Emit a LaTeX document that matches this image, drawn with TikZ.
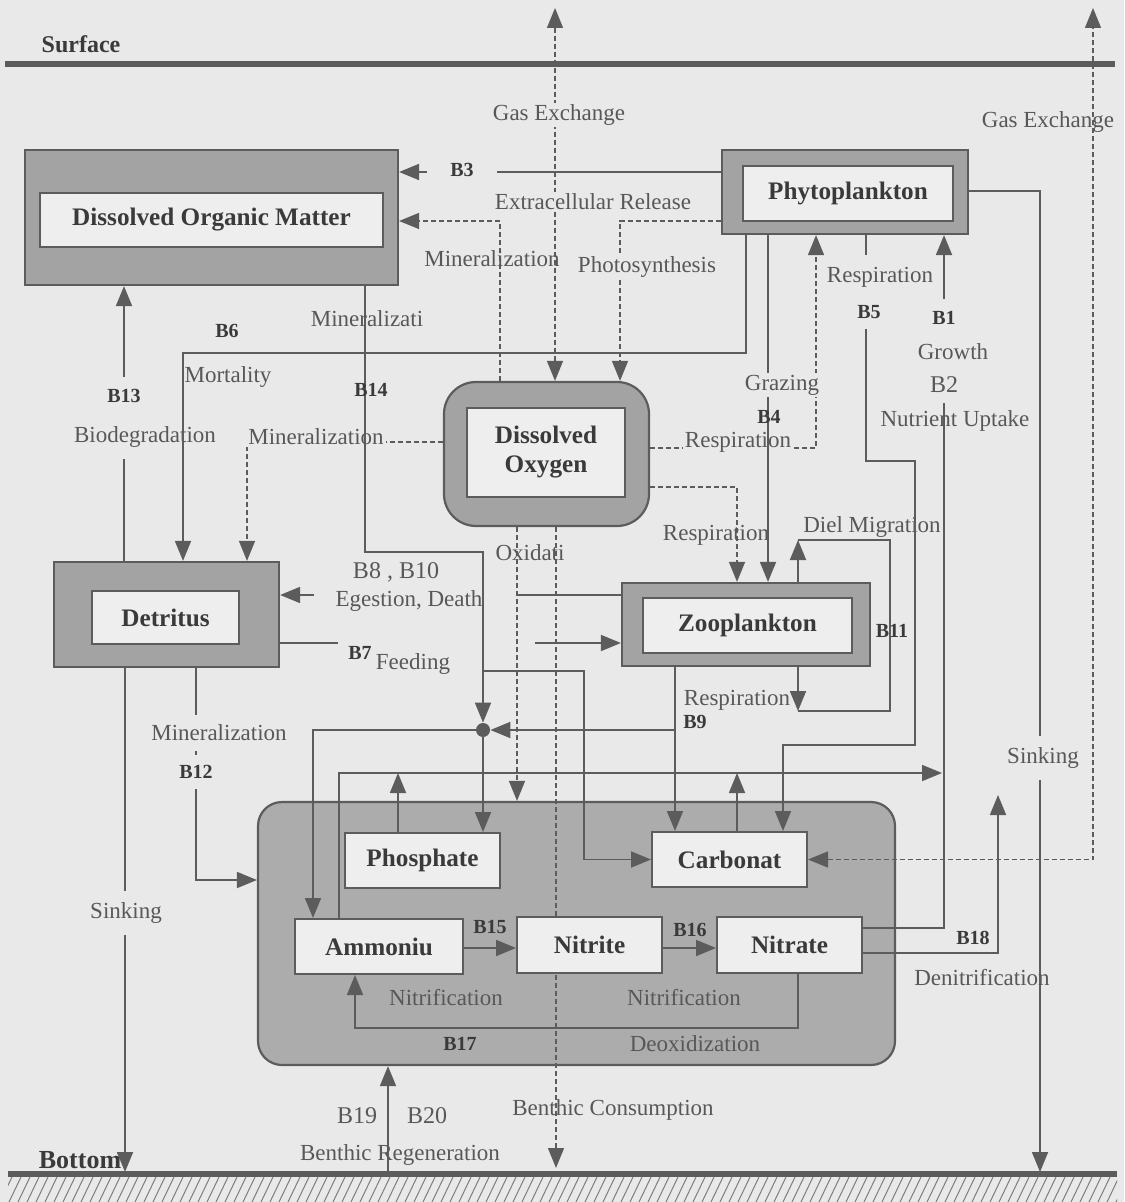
\documentclass[tikz,border=0pt]{standalone}
\usepackage{fontspec}
\setmainfont{Liberation Serif}
\usetikzlibrary{arrows.meta,positioning}

\definecolor{bgcol}{RGB}{233,233,233}
\definecolor{boxgray}{RGB}{163,163,163}
\definecolor{sedgray}{RGB}{172,172,172}
\definecolor{innerfill}{RGB}{238,238,238}
\definecolor{linegray}{RGB}{92,92,92}
\definecolor{textgray}{RGB}{88,88,88}
\definecolor{textdark}{RGB}{58,58,58}

\newcommand{\flowfont}{\fontsize{11.5}{13}\selectfont}
\newcommand{\poolfont}{\fontsize{12.6}{14.5}\selectfont\bfseries}
\newcommand{\tagbfont}{\fontsize{10}{12}\selectfont\bfseries}

\begin{document}
\begin{tikzpicture}[
    x=0.5pt, y=-0.5pt,
    pool/.style={
        rectangle,
        draw=linegray,
        fill=boxgray,
        line width=1.1pt
    },
    poolname/.style={
        rectangle,
        draw=linegray,
        fill=innerfill,
        line width=0.8pt,
        font=\poolfont,
        text=textdark,
        align=center
    },
    salt/.style={
        rectangle,
        draw=linegray,
        fill=innerfill,
        line width=1pt,
        minimum width=77.5pt,
        minimum height=27.5pt,
        font=\poolfont,
        text=textdark
    },
    flowarrow/.style={draw=linegray, line width=0.9pt, -{Triangle[length=10pt,width=8pt]}},
    flowline/.style={draw=linegray, line width=0.9pt},
    gasline/.style={draw=linegray, line width=0.7pt, dash pattern=on 2.5pt off 1.5pt, -{Triangle[length=10pt,width=8pt]}},
    twoway/.style={{Triangle[length=10pt,width=8pt]}-{Triangle[length=10pt,width=8pt]}},
    ground/.style={draw=linegray, line width=2.8pt},
    txt/.style={font=\flowfont, text=textgray, inner sep=1pt},
    btag/.style={font=\tagbfont, text=textdark, inner sep=1pt},
    masked/.style={fill=bgcol}
]

\useasboundingbox (0,0) rectangle (1124,1202);
\fill[bgcol] (0,0) rectangle (1124,1202);

% Surface and bottom
\node[font=\fontsize{12}{14}\selectfont\bfseries, text=textdark] (surf) at (81,44) {Surface};
\draw[ground] (5,64) -- (1115,64);
\draw[ground] (8,1174) -- (1117,1174);
\begin{scope}
\clip (8,1177) rectangle (1117,1202);
\foreach \hx in {0,9,...,1130} {
    \draw[linegray!80, line width=0.5pt] (\hx,1202) -- (\hx+12,1177);
}
\end{scope}

% Pools
\node[pool, minimum width=186.5pt, minimum height=67.5pt] (dom) at (211.5,217.5) {};
\node[poolname, minimum width=171.5pt, minimum height=27pt] (domname) at (211.5,220) {Dissolved Organic Matter};

\node[pool, minimum width=123pt, minimum height=42pt] (phy) at (845,192) {};
\node[poolname, minimum width=105pt, minimum height=27.5pt] (phyname) at (848,193.5) {Phytoplankton};

\node[pool, rounded corners=16pt, minimum width=102.5pt, minimum height=72pt] (do) at (546.5,454) {};
\node[poolname, minimum width=79pt, minimum height=44.5pt] (doname) at (546,452.5) {Dissolved\\Oxygen};

\node[pool, minimum width=112.5pt, minimum height=52.5pt] (det) at (166.5,614.5) {};
\node[poolname, minimum width=73.5pt, minimum height=26.5pt] (detname) at (165.5,617.5) {Detritus};

\node[pool, minimum width=124pt, minimum height=41.5pt] (zoo) at (746,624.5) {};
\node[poolname, minimum width=104.5pt, minimum height=27.5pt] (zooname) at (747.5,625.5) {Zooplankton};

\node[pool, fill=sedgray, rounded corners=12pt, minimum width=318.5pt, minimum height=131.5pt] (sed) at (576.5,933.5) {};

\node[circle, fill=linegray, minimum size=7pt, inner sep=0pt] (jn) at (483,730) {};

% Benthic consumption runs behind the nitrite box
\coordinate (bcons) at (556,1168);
\draw[gasline] (do.south -| bcons) -- (bcons);
\node[txt] (bcon) at (613,1110) {Benthic Consumption};

% Nutrient boxes in the sediment
\node[salt] (pho) at (422.5,860.5) {Phosphate};
\node[salt] (crb) at (729.5,859.5) {Carbonat};
\node[salt, minimum width=84pt] (amm) at (379,946.5) {Ammoniu};
\node[salt, minimum width=72.5pt, minimum height=28pt] (nit) at (589.5,945) {Nitrite};
\node[salt, minimum width=72.5pt, minimum height=28pt] (nta) at (789.5,944.5) {Nitrate};

% Gas exchange
\coordinate (gastop) at (555,8);
\draw[gasline, twoway] (gastop) -- (do.north -| gastop);
\node[txt, masked] (gasmid) at (559,115) {Gas Exchange};

\coordinate (gastop2) at (1093,8);
\draw[gasline, twoway] (crb.east) -| (gastop2);
\node[txt] (gasr) at (1048,122) {Gas Exchange};

% Extracellular release B3
\draw[flowarrow] (phy.west |- 0,172) -- (dom.east |- 0,172);
\node[btag, masked, inner xsep=11.5pt] (b3) at (462,170) {B3};
\node[txt, masked] (extra) at (593,202) {Extracellular Release};

% Oxygen links
\draw[gasline] (do.north -| 500,0) |- (dom.east |- 0,221);
\node[txt] (minr1) at (492,259) {Mineralization};

\draw[gasline] (phy.west |- 0,221) -| (do.north -| 620,0);
\node[txt, masked] (photo) at (647,267) {Photosynthesis};

\draw[gasline] (do.west |- 0,442) -| (det.north -| 247,0);
\node[txt, masked] (minr3) at (316,437) {Mineralization};

\draw[gasline] (do.east |- 0,448) -| (phy.south -| 816,0);
\node[txt, masked] (resp1) at (738,442) {Respiration};

\draw[gasline] (do.east |- 0,487) -| (zoo.north -| 737,0);
\node[txt] (resp2) at (716,535) {Respiration};

\draw[gasline] (do.south -| 517,0) -- (sed.north -| 517,0);
\node[txt] (oxid) at (530,553) {Oxidati};

% Biodegradation B13
\draw[flowarrow] (det.north -| 124,0) -- (dom.south -| 124,0);
\node[btag, masked, inner ysep=6pt] (b13) at (124,396) {B13};
\node[txt, masked, inner ysep=6pt] (biodeg) at (145,437) {Biodegradation};

% Mortality B6
\draw[flowarrow] (phy.south -| 746,0) |- (183,353) -- (det.north -| 183,0);
\node[btag] (b6) at (227,331) {B6};
\node[txt] (mort) at (228,377) {Mortality};

% Mineralization B14 and the junction
\draw[flowarrow] (dom.south -| 365,0) |- (jn |- 0,552) -- (jn);
\node[txt] (minr2) at (367,319) {Mineralizati};
\node[btag] (b14) at (371,390) {B14};
\draw[flowarrow] (jn |- 0,671) -| (584,0 |- crb.west) -- (crb.west);
\draw[flowarrow] (jn) -- (jn |- pho.north);
\draw[flowarrow] (jn) -| (amm.north -| 313,0);

% Grazing B4
\draw[flowarrow] (phy.south -| 768,0) -- (zoo.north -| 768,0);
\node[txt, masked] (graz) at (782,385) {Grazing};
\node[btag] (b4) at (769,417) {B4};

% Zooplankton respiration B9
\draw[flowarrow] (zoo.south -| 675,0) -- (crb.north -| 675,0);
\draw[flowarrow] (jn -| 675,0) -- (jn);
\node[txt] (resp4) at (737,700) {Respiration};
\node[btag] (b9) at (695,722) {B9};

% Diel migration B11
\coordinate (dieltop) at (798,540);
\coordinate (dielbot) at (798,711);
\draw[flowarrow] (zoo.north -| dieltop) -- (dieltop);
\draw[flowarrow] (zoo.south -| dielbot) -- (dielbot);
\draw[flowline] (dieltop) -| (890,0 |- dielbot) -- (dielbot);
\node[txt] (diel) at (872,527) {Diel Migration};
\node[btag] (b11) at (892,631) {B11};

% Feeding B7
\coordinate (feedA) at (338,643);
\coordinate (feedB) at (535,643);
\draw[flowline] (det.east |- feedA) -- (feedA);
\draw[flowarrow] (feedB) -- (zoo.west |- feedB);
\node[btag] (b7) at (360,653) {B7};
\node[txt] (feed) at (413,664) {Feeding};

% Egestion and death B8, B10
\coordinate (egA) at (518,595);
\coordinate (egB) at (314,595);
\draw[flowline] (zoo.west |- egA) -- (egA);
\draw[flowarrow] (egB) -- (det.east |- egB);
\node[txt, font=\fontsize{12}{14}\selectfont] (b8) at (396,572) {B8 , B10};
\node[txt] (egest) at (409,601) {Egestion, Death};

% Mineralization B12
\draw[flowarrow] (det.south -| 196,0) |- (sed.west |- 0,880);
\node[txt, masked, inner ysep=5pt] (minr4) at (219,733) {Mineralization};
\node[btag, masked, inner ysep=5pt] (b12) at (196,772) {B12};

% Sinking
\coordinate (detsink) at (125,1172);
\draw[flowarrow] (det.south -| detsink) -- (detsink);
\node[txt, masked, inner ysep=6pt] (sink1) at (126,913) {Sinking};

\coordinate (physink) at (1040,1172);
\draw[flowarrow] (phy.east |- 0,191) -| (physink);
\node[txt, masked, inner ysep=6pt] (sink2) at (1043,758) {Sinking};

% Phytoplankton respiration B5
\draw[flowarrow] (phy.south -| 866,0) |- (915,461) |- (783,745) -- (crb.north -| 783,0);
\node[txt, masked, inner ysep=6pt] (resp3) at (880,277) {Respiration};
\node[btag, masked, inner ysep=5pt] (b5) at (869,312) {B5};

% Growth B1 and nutrient uptake B2
\draw[flowarrow] (nta.east |- 0,928) -| (phy.south -| 944,0);
\node[btag, masked, inner ysep=6pt] (b1) at (944,318) {B1};
\node[txt, masked, inner ysep=4pt] (grow) at (953,352) {Growth};
\node[txt, masked, font=\fontsize{12}{14}\selectfont, inner ysep=5pt] (b2) at (944,385) {B2};
\node[txt] (uptk) at (955,421) {Nutrient Uptake};

\coordinate (busL) at (339,773);
\coordinate (busR) at (942,773);
\draw[flowarrow] (amm.north -| busL) |- (busR);
\draw[flowarrow] (pho.north -| 398,0) -- (busL -| 398,0);
\draw[flowarrow] (crb.north -| 737,0) -- (busL -| 737,0);

% Nitrification B15, B16
\draw[flowarrow] (amm.east |- 0,948) -- (nit.west |- 0,948);
\draw[flowarrow] (nit.east |- 0,948) -- (nta.west |- 0,948);
\node[btag] (b15) at (490,927) {B15};
\node[btag] (b16) at (690,930) {B16};
\node[txt] (nitr1) at (446,998) {Nitrification};
\node[txt] (nitr2) at (684,998) {Nitrification};

% Deoxidization B17
\draw[flowarrow] (nta.south -| 798,0) |- (355,1028) -- (amm.south -| 355,0);
\node[btag] (b17) at (460,1044) {B17};
\node[txt] (deox) at (695,1044) {Deoxidization};

% Denitrification B18
\coordinate (denit) at (998,795);
\draw[flowarrow] (nta.east |- 0,953) -| (denit);
\node[btag] (b18) at (973,938) {B18};
\node[txt] (denitr) at (982,978) {Denitrification};

% Benthic regeneration B19, B20
\coordinate (bregen) at (388,1174);
\draw[flowarrow] (bregen) -- (sed.south -| bregen);
\node[txt, font=\fontsize{12}{14}\selectfont] (b19) at (357,1116) {B19};
\node[txt, font=\fontsize{12}{14}\selectfont] (b20) at (427,1116) {B20};
\node[txt] (bgen) at (400,1155) {Benthic Regeneration};

\node[font=\fontsize{13}{15}\selectfont\bfseries, text=textdark] (bott) at (80,1160) {Bottom};

\end{tikzpicture}
\end{document}
